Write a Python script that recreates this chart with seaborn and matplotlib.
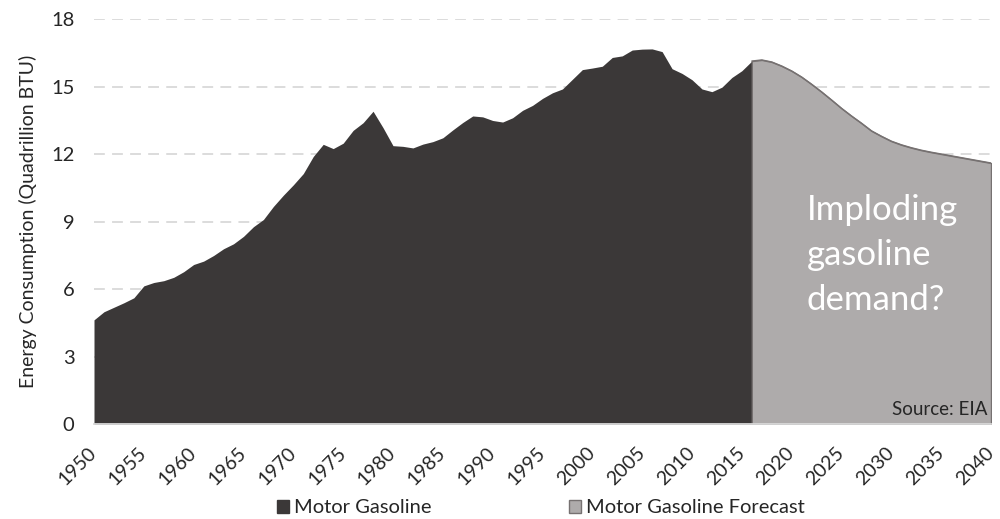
import matplotlib
matplotlib.use("Agg")
import matplotlib.pyplot as plt
import matplotlib.transforms as mtransforms
import seaborn as sns
import pandas as pd
from matplotlib.patches import Patch

hist_years = list(range(1950, 2017))
hist_values = [4.64, 5.0, 5.2, 5.4, 5.62, 6.15, 6.3, 6.38, 6.53, 6.78,
               7.1, 7.25, 7.5, 7.8, 8.02, 8.35, 8.78, 9.1, 9.68, 10.18,
               10.64, 11.14, 11.9, 12.44, 12.25, 12.49, 13.06, 13.4, 13.91, 13.18,
               12.38, 12.35, 12.28, 12.45, 12.56, 12.73, 13.08, 13.41, 13.7, 13.66,
               13.5, 13.43, 13.62, 13.95, 14.17, 14.48, 14.73, 14.9, 15.33, 15.76,
               15.83, 15.91, 16.3, 16.37, 16.63, 16.67, 16.68, 16.56, 15.8, 15.59,
               15.31, 14.9, 14.78, 14.98, 15.41, 15.71, 16.14]
fc_years = list(range(2016, 2041))
fc_values = [16.14, 16.19, 16.1, 15.92, 15.7, 15.43, 15.11, 14.77, 14.41, 14.04,
             13.7, 13.38, 13.04, 12.8, 12.58, 12.42, 12.29, 12.18, 12.09, 12.01,
             11.93, 11.85, 11.77, 11.69, 11.61]
x_ticks = list(range(1950, 2041, 5))
y_ticks = [0, 3, 6, 9, 12, 15, 18]
series_names = ["Motor Gasoline", "Motor Gasoline Forecast"]

DARK = "#3B3838"
LIGHT = "#AEABAB"
EDGE = "#767171"
GRID = "#D9D9D9"

sns.set_theme(style="white")
plt.rcParams["font.family"] = ["Lato", "DejaVu Sans"]

hist = pd.DataFrame({"year": hist_years, "value": hist_values})
fc = pd.DataFrame({"year": fc_years, "value": fc_values})

fig = plt.figure(figsize=(10, 5.19), dpi=100)
ax = fig.add_axes([0.094, 0.1825, 0.897, 0.7805])

ax.fill_between(hist["year"], 0, hist["value"], color=DARK, linewidth=0, zorder=2)
ax.fill_between(fc["year"], 0, fc["value"], facecolor=LIGHT, edgecolor=EDGE,
                linewidth=1.0, zorder=2)
sns.lineplot(data=fc, x="year", y="value", ax=ax, color=EDGE, linewidth=1.0, zorder=3)

ax.set_xlim(1950, 2040)
ax.set_ylim(0, 18)
ax.set_yticks(y_ticks)
ax.set_yticklabels([str(v) for v in y_ticks], fontsize=14.5, color="#262626")
ax.set_xticks(x_ticks)
ax.set_xticklabels([str(v) for v in x_ticks], rotation=45, ha="right", va="top",
                   rotation_mode="anchor", fontsize=14, color="#262626")
ax.tick_params(axis="x", length=0, pad=14)
ax.tick_params(axis="y", length=0, pad=14)
offset = mtransforms.ScaledTranslation(-6 / 100, 0, fig.dpi_scale_trans)
for lbl in ax.get_xticklabels():
    lbl.set_transform(lbl.get_transform() + offset)

ax.yaxis.grid(True, color=GRID, linestyle=(0, (6, 4)), linewidth=1.3, zorder=0)
ax.set_axisbelow(True)
for s in ["top", "right", "left"]:
    ax.spines[s].set_visible(False)
ax.spines["bottom"].set_color(GRID)
ax.spines["bottom"].set_linewidth(1.3)

ax.set_xlabel("")
ax.set_ylabel("Energy Consumption (Quadrillion BTU)", fontsize=14, color="#262626", labelpad=10)

ax.text(2021.5, 7.5, "Imploding\ngasoline\ndemand?", color="white", fontsize=25,
        ha="left", va="center", linespacing=1.5, zorder=4)
ax.text(2039.6, 0.3, "Source: EIA", color="#262626", fontsize=13.5,
        ha="right", va="bottom", zorder=4)

handles = [Patch(facecolor=DARK, edgecolor=DARK), Patch(facecolor=LIGHT, edgecolor=EDGE)]
fig.legend(handles, series_names, loc="lower center", bbox_to_anchor=(0.541, -0.03),
           ncol=2, frameon=False, fontsize=14.5, handlelength=0.6, handleheight=0.6,
           handletextpad=0.25, columnspacing=6.8, labelcolor="#262626")

fig.savefig("out.png", dpi=100)
